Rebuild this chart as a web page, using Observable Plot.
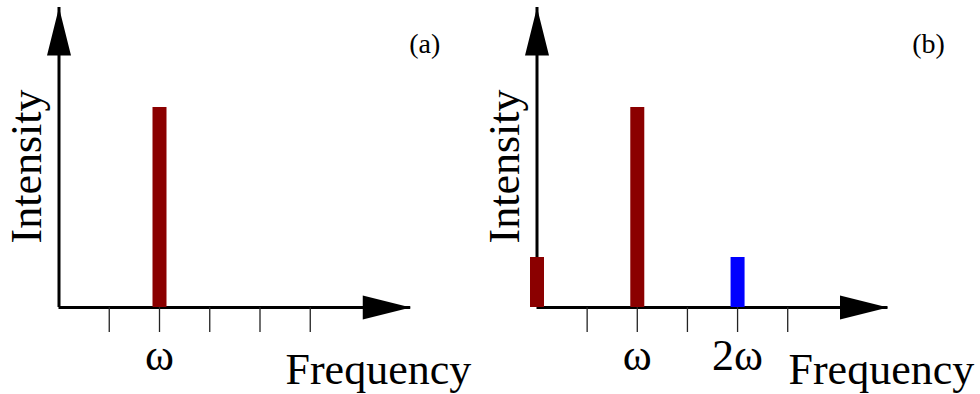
<!DOCTYPE html>
<html><head><meta charset="utf-8">
<script src="https://cdn.jsdelivr.net/npm/d3@7"></script>
<script src="https://cdn.jsdelivr.net/npm/@observablehq/plot@0.6"></script>
<style>
html,body{margin:0;padding:0;background:#fff;}
#wrap{display:flex;width:980px;height:394px;overflow:hidden;}
</style></head><body><div id="wrap"></div>
<script>
// ---- data ----
const tickValues = [0.5, 1, 1.5, 2, 2.5];
const tickLabelsA = ["", "ω", "", "", ""];
const tickLabelsB = ["", "ω", "", "2ω", ""];
const freqA = [1];
const intensityA = [1];
const colorA = ["#8b0000"];
const freqB = [0, 1, 2];
const intensityB = [0.25, 1, 0.25];
const colorB = ["#8b0000", "#8b0000", "#0000ff"];
const panelLabels = ["(a)", "(b)"];
const axisTitleX = "Frequency";
const axisTitleY = "Intensity";
const freqMax = 3.5;
const intensityMax = 1.5;

const FONT = "'Liberation Serif', 'Times New Roman', serif";
const arrowHead = {
  draw(ctx) { ctx.moveTo(0, 0); ctx.lineTo(12, 48); ctx.lineTo(-12, 48); ctx.closePath(); }
};

function panel({freqs, ints, colors, tickLabels, label, marginLeft, marginRight, freqDx, labelDx}) {
  const rows = freqs.map((f, i) => ({f, v: ints[i], c: colors[i]}));
  const heads = [{f: 0, v: intensityMax, r: 0}, {f: freqMax, v: 0, r: 90}];
  return Plot.plot({
    width: 490, height: 394,
    marginLeft, marginRight, marginTop: 7, marginBottom: 87,
    style: {fontFamily: FONT, background: "white", overflow: "visible"},
    x: {domain: [0, freqMax], axis: null},
    y: {domain: [0, intensityMax], axis: null},
    color: {type: "identity"},
    marks: [
      Plot.ruleY([0], {x1: 0, x2: freqMax, stroke: "black", strokeWidth: 3}),
      Plot.ruleX([0], {y1: 0, y2: intensityMax, stroke: "black", strokeWidth: 3}),
      Plot.dot(heads, {x: "f", y: "v", rotate: "r", symbol: arrowHead, fill: "black", stroke: "none"}),
      Plot.ruleX(rows, {x: "f", y1: 0, y2: "v", stroke: "c", strokeWidth: 14}),
      Plot.axisX(tickValues, {
        anchor: "bottom", tickSize: 25, tickPadding: 6,
        tickFormat: d => tickLabels[tickValues.indexOf(d)],
        fontSize: 44, fontFamily: FONT, stroke: "#222", strokeWidth: 1.3, fill: "black", label: null
      }),
      Plot.text([axisTitleX], {text: d => d, frameAnchor: "bottom-left", dx: freqDx, dy: 76,
        textAnchor: "start", lineAnchor: "bottom", fontSize: 44, fontFamily: FONT, fill: "black"}),
      Plot.text([axisTitleY], {text: d => d, frameAnchor: "left", rotate: -90, dx: -18.5, dy: 9,
        textAnchor: "middle", lineAnchor: "bottom", fontSize: 44, fontFamily: FONT, fill: "black"}),
      Plot.text([label], {text: d => d, frameAnchor: "top-right", dx: labelDx, dy: 45,
        textAnchor: "middle", lineAnchor: "bottom", fontSize: 28, fontFamily: FONT, fill: "black"})
    ]
  });
}

const wrap = document.getElementById("wrap");
wrap.append(panel({freqs: freqA, ints: intensityA, colors: colorA, tickLabels: tickLabelsA, label: panelLabels[0],
  marginLeft: 58.5, marginRight: 79.75, freqDx: 226.5, labelDx: 14}));
wrap.append(panel({freqs: freqB, ints: intensityB, colors: colorB, tickLabels: tickLabelsB, label: panelLabels[1],
  marginLeft: 46.5, marginRight: 92.5, freqDx: 251.5, labelDx: 40.5}));
</script></body></html>
